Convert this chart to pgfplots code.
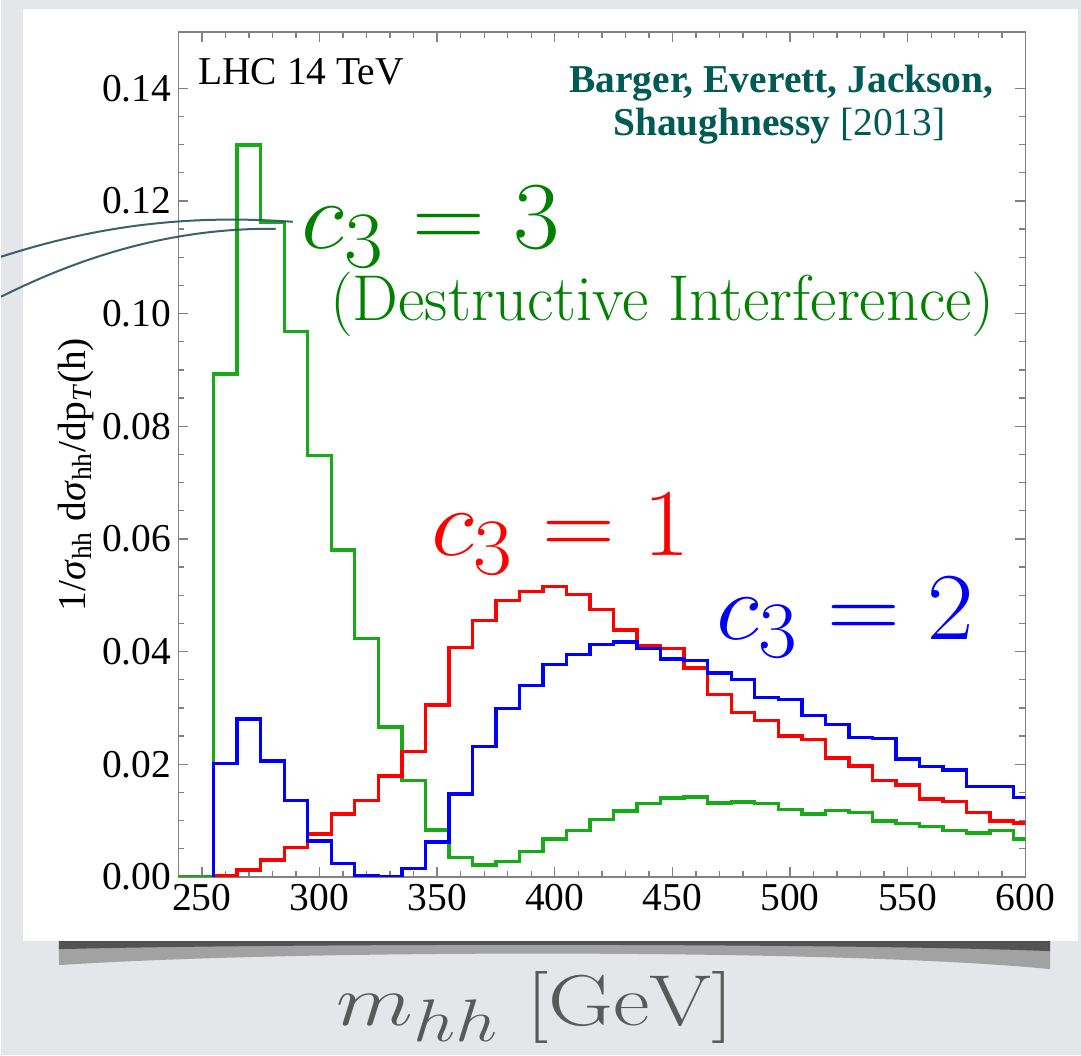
\documentclass[border=0pt]{standalone}
\usepackage{fontspec}
\usepackage{pgfplots}
\pgfplotsset{compat=1.18}
\newfontfamily\timesfont{Liberation Serif}
\definecolor{bgc}{RGB}{228,230,234}
\definecolor{tealtxt}{RGB}{0,90,85}
\definecolor{hgreen}{RGB}{25,170,25}
\definecolor{lgreen}{RGB}{0,130,0}
\definecolor{swoosh}{RGB}{40,80,90}
\definecolor{framec}{RGB}{130,130,130}
\newcommand{\mfont}{\timesfont\fontsize{19.75}{22}\selectfont}
\begin{document}
\begin{tikzpicture}
\begin{scope}[x=0.5pt,y=-0.5pt]
\useasboundingbox (0,0) rectangle (1081,1056);
\fill[bgc] (0,0) rectangle (1081,1056);
\fill[black!45, opacity=0.75] (58,936) -- (1050,936) -- (1050,970) .. controls (850,950) and (300,950) .. (58,966) -- cycle;
\fill[black!75, opacity=0.8] (58,936) -- (1050,936) -- (1050,952) .. controls (850,944) and (300,944) .. (58,950) -- cycle;
\fill[white] (22,9) rectangle (1078,942);
\end{scope}
\begin{axis}[
  at={(88.75pt,-438.85pt)}, anchor=south west,
  scale only axis, width=423.9pt, height=422.9pt,
  xmin=240, xmax=600, ymin=0, ymax=0.15,
  axis line style={framec, line width=0.8pt},
  tick align=inside,
  major tick length=5pt, minor tick length=3pt,
  every tick/.style={framec, line width=0.7pt},
  xtick={250,300,350,400,450,500,550,600},
  minor x tick num=4,
  ytick={0,0.02,0.04,0.06,0.08,0.10,0.12,0.14},
  minor y tick num=3,
  scaled y ticks=false,
  /pgf/number format/assume math mode=true,
  yticklabel style={/pgf/number format/.cd, fixed, fixed zerofill, precision=2},
  xticklabel style={/pgf/number format/.cd, fixed, precision=0},
  tick label style={font=\mfont, text=black},
]
\addplot[const plot, line width=1.7pt, hgreen] coordinates {
(240,0) (255,0.0893) (265,0.1299) (275,0.1162) (285,0.0968) (295,0.0748) (305,0.0580) (315,0.0423) (325,0.0266) (335,0.0171) (345,0.0083) (355,0.0034) (365,0.0021) (375,0.0027) (385,0.0045) (395,0.0067) (405,0.0082) (415,0.0102) (425,0.0117) (435,0.0130) (445,0.0140) (455,0.0142) (465,0.0131) (475,0.0133) (485,0.0130) (495,0.0120) (505,0.0112) (515,0.0118) (525,0.0114) (535,0.0099) (545,0.0095) (555,0.0089) (565,0.0082) (575,0.0078) (585,0.0082) (595,0.0067) (605,0.0067)};
\addplot[const plot, line width=1.7pt, red] coordinates {
(255,0.0003) (265,0.0012) (275,0.0030) (285,0.0052) (295,0.0076) (305,0.0112) (315,0.0136) (325,0.0179) (335,0.0223) (345,0.0305) (355,0.0407) (365,0.0455) (375,0.0491) (385,0.0507) (395,0.0515) (405,0.0501) (415,0.0475) (425,0.0438) (435,0.0411) (445,0.0405) (455,0.0371) (465,0.0324) (475,0.0292) (485,0.0278) (495,0.0250) (505,0.0244) (515,0.0211) (525,0.0197) (535,0.0171) (545,0.0163) (555,0.0138) (565,0.0134) (575,0.0114) (585,0.0099) (595,0.0096) (605,0.0096)};
\addplot[const plot, line width=1.7pt, blue] coordinates {
(255,0) (255,0.0201) (265,0.0280) (275,0.0206) (285,0.0136) (295,0.0064) (305,0.0024) (315,0.0003) (325,0.0000) (335,0.0015) (345,0.0062) (355,0.0147) (365,0.0231) (375,0.0299) (385,0.0340) (395,0.0377) (405,0.0395) (415,0.0413) (425,0.0417) (435,0.0405) (445,0.0387) (455,0.0384) (465,0.0362) (475,0.0350) (485,0.0318) (495,0.0315) (505,0.0287) (515,0.0271) (525,0.0247) (535,0.0246) (545,0.0209) (555,0.0196) (565,0.0190) (575,0.0161) (585,0.0160) (595,0.0141) (605,0.0141)};
\end{axis}
\begin{scope}[x=0.5pt,y=-0.5pt]
\draw[swoosh, line width=1.0pt, opacity=0.9] (0,257) .. controls (90,228) and (180,214) .. (292,222);
\draw[swoosh, line width=1.0pt, opacity=0.9] (0,297) .. controls (90,252) and (180,228) .. (275,229);
\node[anchor=base west, font=\mfont, inner sep=0pt] at (197,85) {LHC 14 TeV};
\node[anchor=base, font=\mfont, text=tealtxt, inner sep=0pt] at (781,93) {\textbf{Barger, Everett, Jackson,}};
\node[anchor=base, font=\mfont, text=tealtxt, inner sep=0pt] at (779,136) {\textbf{Shaughnessy} [2013]};
\node[rotate=90, font=\mfont, inner sep=0pt] at (75,475) {1/\textit{σ}\textsubscript{hh} d\textit{σ}\textsubscript{hh}/dp\textsubscript{\textit{T}}(h)};
\node[anchor=base, text=lgreen, font=\Huge, xscale=2.03, yscale=1.93, inner sep=0pt] at (430,249) {$c_3 = 3$};
\node[anchor=base, text=lgreen, font=\fontsize{32.4}{34}\selectfont, inner sep=0pt] at (662,321) {(Destructive Interference)};
\node[anchor=base, text=red, font=\Huge, xscale=2.03, yscale=1.93, inner sep=0pt] at (560,556) {$c_3 = 1$};
\node[anchor=base, text=blue, font=\Huge, xscale=2.03, yscale=1.93, inner sep=0pt] at (845,640) {$c_3 = 2$};
\node[anchor=base, text=black!65, font=\Huge, xscale=1.8, yscale=1.45, inner sep=0pt] at (535,1026) {$m_{hh}\ [\mathrm{GeV}]$};
\end{scope}
\end{tikzpicture}
\end{document}
